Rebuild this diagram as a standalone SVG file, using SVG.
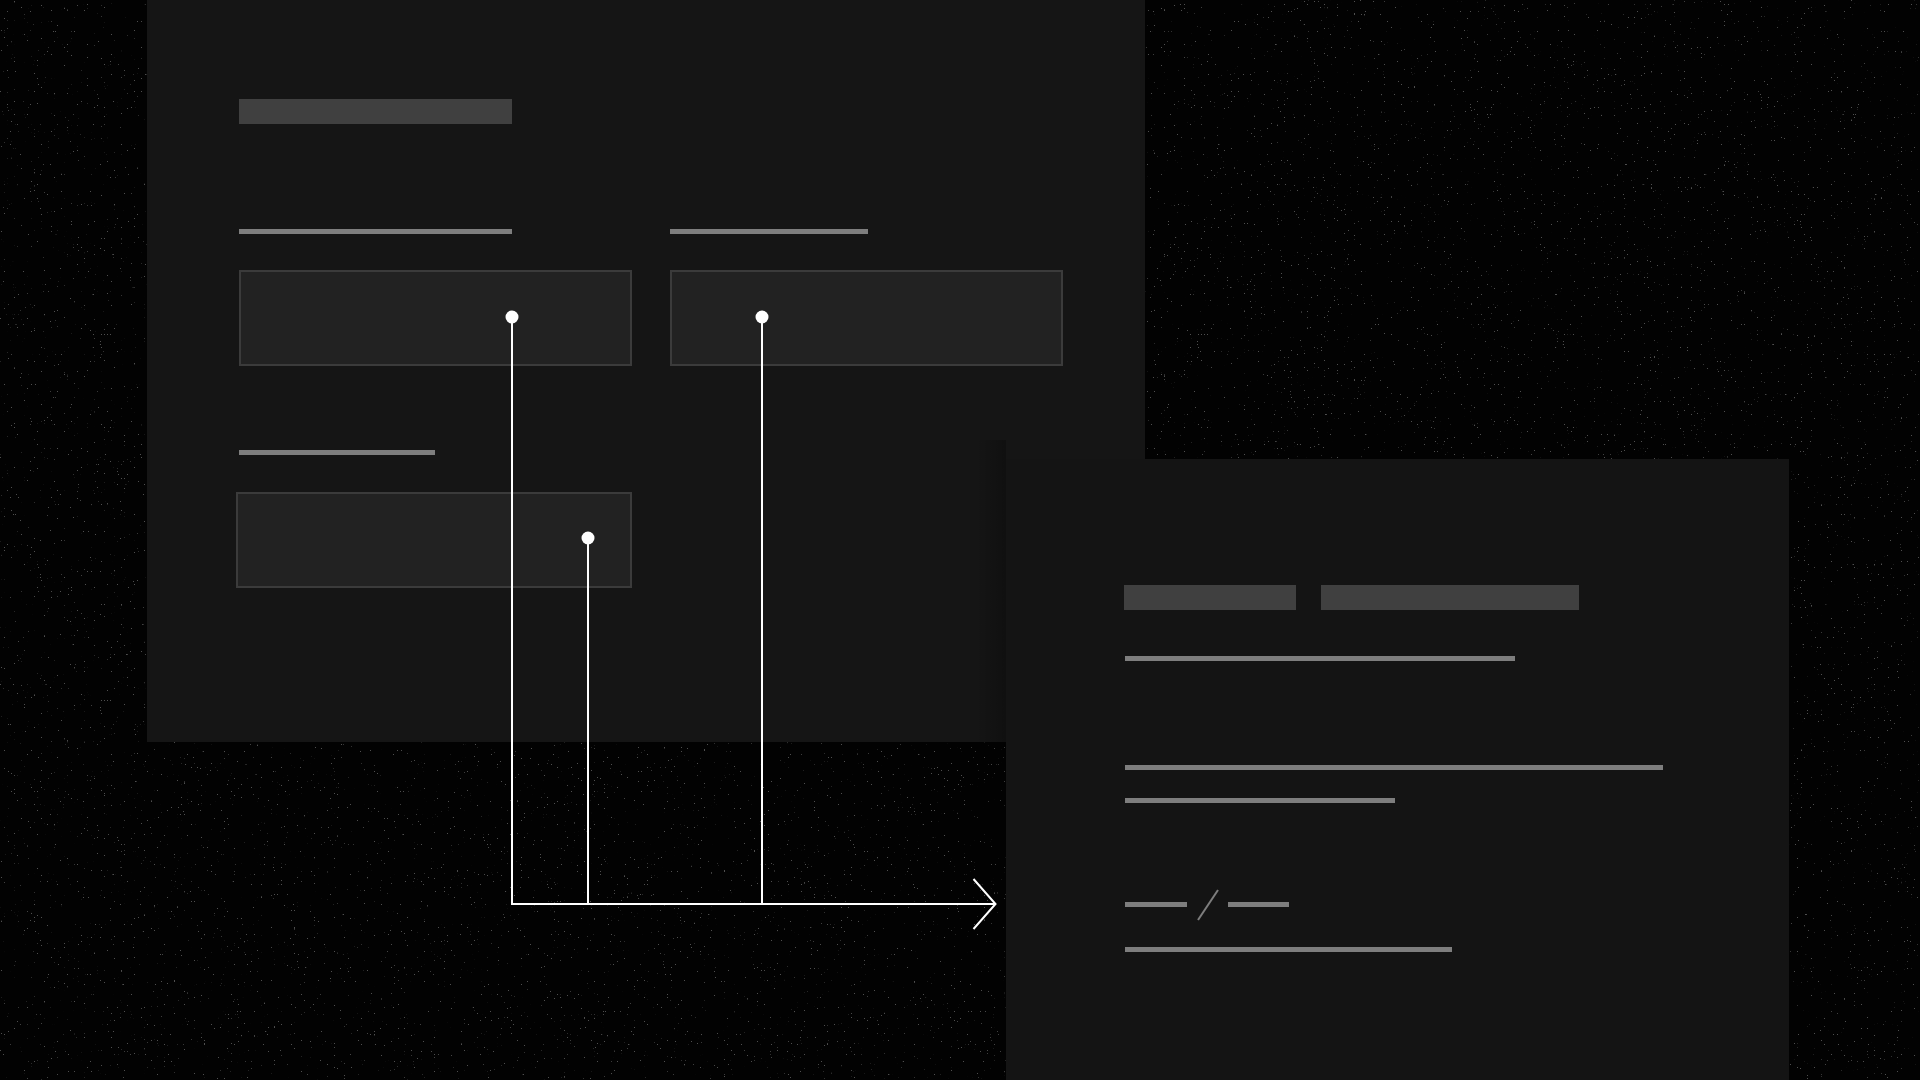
<svg xmlns="http://www.w3.org/2000/svg" width="1920" height="1080" viewBox="0 0 1920 1080">
  <defs>
    <style>
      .panel { fill: #151515; }
      .panel2 { fill: #141414; }
      .bar { fill: #404040; }
      .rule { fill: #7e7e7e; }
      .field { fill: #222222; stroke: #3b3b3b; stroke-width: 2; }
      .wire { fill: none; stroke: #ffffff; stroke-width: 2; }
      .dot { fill: #ffffff; }
    </style>
    <filter id="specks" x="0" y="0" width="100%" height="100%">
      <feTurbulence type="fractalNoise" baseFrequency="0.7" numOctaves="1" seed="7" result="n"/>
      <feColorMatrix in="n" type="matrix" values="0 0 0 0 1  0 0 0 0 1  0 0 0 0 1  30 0 0 0 -21.5"/>
    </filter>
    <linearGradient id="shadow" x1="0" y1="0" x2="1" y2="0">
      <stop offset="0" stop-color="#000" stop-opacity="0"/>
      <stop offset="1" stop-color="#000" stop-opacity="0.25"/>
    </linearGradient>
  </defs>

  <rect x="0" y="0" width="1920" height="1080" fill="#020202"/>
  <rect x="0" y="0" width="1920" height="1080" filter="url(#specks)" opacity="0.3"/>

  <g id="form-panel">
    <rect class="panel" x="147" y="0" width="998" height="742"/>
    <rect class="bar" x="239" y="99" width="273" height="25"/>
    <rect class="rule" x="239" y="229" width="273" height="5"/>
    <rect class="rule" x="670" y="229" width="198" height="5"/>
    <rect class="field" x="240" y="271" width="391" height="94"/>
    <rect class="field" x="671" y="271" width="391" height="94"/>
    <rect class="rule" x="239" y="450" width="196" height="5"/>
    <rect class="field" x="237" y="493" width="394" height="94"/>
  </g>

  <g id="summary-panel">
    <rect x="976" y="440" width="30" height="640" fill="url(#shadow)"/>
    <rect class="panel2" x="1006" y="459" width="783" height="621"/>
    <rect class="bar" x="1124" y="585" width="172" height="25"/>
    <rect class="bar" x="1321" y="585" width="258" height="25"/>
    <rect class="rule" x="1125" y="656" width="390" height="5"/>
    <rect class="rule" x="1125" y="765" width="538" height="5"/>
    <rect class="rule" x="1125" y="798" width="270" height="5"/>
    <rect class="rule" x="1125" y="902" width="62" height="5"/>
    <line x1="1198" y1="920" x2="1218" y2="890" stroke="#7e7e7e" stroke-width="2"/>
    <rect class="rule" x="1228" y="902" width="61" height="5"/>
    <rect class="rule" x="1125" y="947" width="327" height="5"/>
  </g>

  <g id="connectors">
    <polyline class="wire" points="512,317 512,904 995,904"/>
    <line class="wire" x1="588" y1="538" x2="588" y2="904"/>
    <line class="wire" x1="762" y1="317" x2="762" y2="904"/>
    <polyline class="wire" points="973.5,879 995.5,904 973.5,929"/>
  </g>

  <g id="anchors">
    <circle class="dot" cx="512" cy="317" r="6.5"/>
    <circle class="dot" cx="762" cy="317" r="6.5"/>
    <circle class="dot" cx="588" cy="538" r="6.5"/>
  </g>
</svg>
